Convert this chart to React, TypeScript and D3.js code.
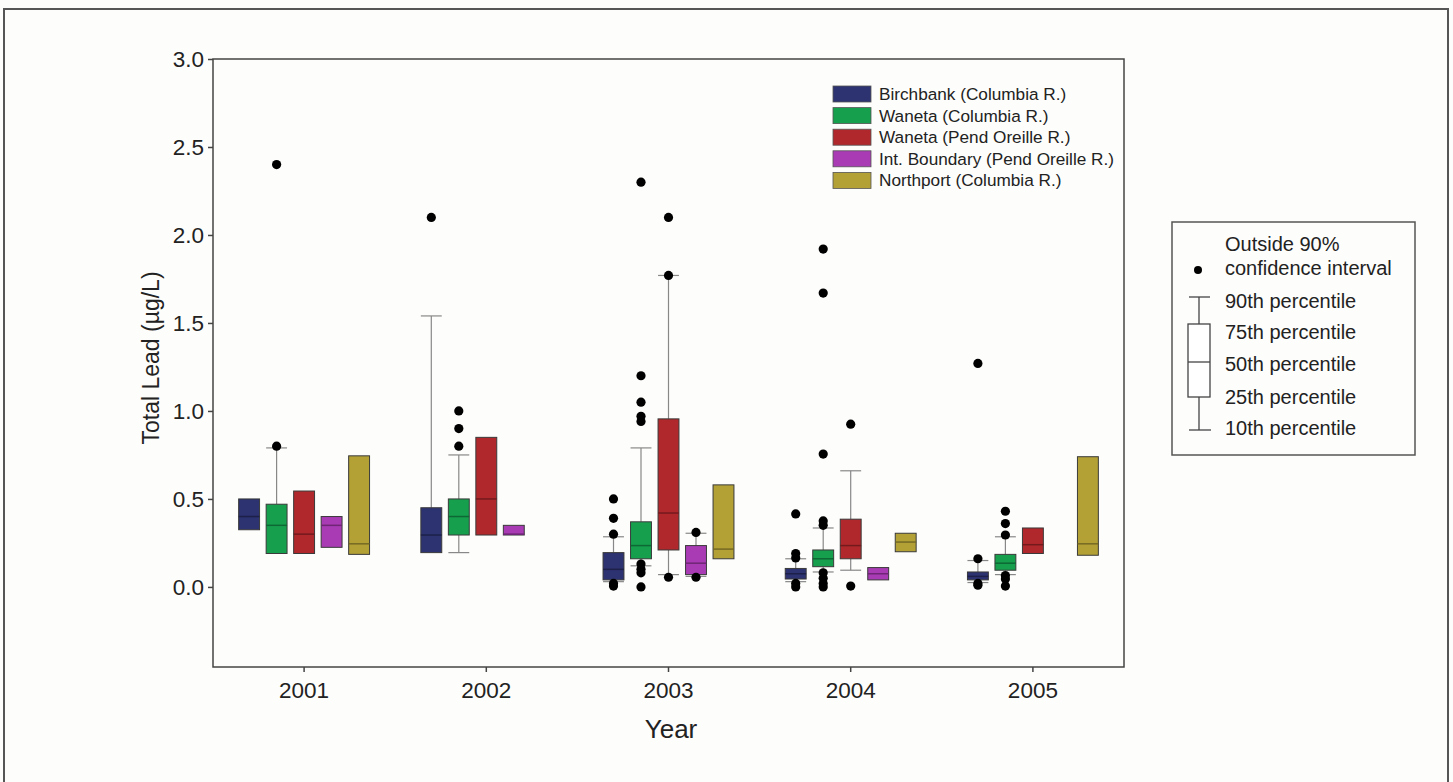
import React, { useEffect, useRef } from "react";
import { scaleLinear, scaleBand, axisLeft, axisBottom, select, color } from "d3";

const years = ["2001", "2002", "2003", "2004", "2005"];
const seriesNames = [
  "Birchbank (Columbia R.)",
  "Waneta (Columbia R.)",
  "Waneta (Pend Oreille R.)",
  "Int. Boundary (Pend Oreille R.)",
  "Northport (Columbia R.)",
];
const seriesColors = ["#2d3270", "#16a04e", "#b1282c", "#a93bb4", "#b3a136"];
const yTicks = [0, 0.5, 1.0, 1.5, 2.0, 2.5, 3.0];

// p10 / p90 are null where no whisker is drawn
const birchbank = [
  { year: "2001", p10: null, p25: 0.325, p50: 0.4, p75: 0.5, p90: null, out: [] },
  { year: "2002", p10: null, p25: 0.195, p50: 0.295, p75: 0.45, p90: 1.54, out: [2.1] },
  { year: "2003", p10: 0.03, p25: 0.04, p50: 0.1, p75: 0.195, p90: 0.285, out: [0.5, 0.39, 0.3, 0.02, 0.005] },
  { year: "2004", p10: 0.03, p25: 0.045, p50: 0.075, p75: 0.105, p90: 0.16, out: [0.415, 0.19, 0.165, 0.02, 0.0] },
  { year: "2005", p10: 0.025, p25: 0.04, p50: 0.06, p75: 0.085, p90: 0.15, out: [1.27, 0.16, 0.02, 0.01] },
];
const wanetaColumbia = [
  { year: "2001", p10: null, p25: 0.19, p50: 0.35, p75: 0.47, p90: 0.79, out: [2.4, 0.8] },
  { year: "2002", p10: 0.195, p25: 0.295, p50: 0.4, p75: 0.5, p90: 0.75, out: [1.0, 0.9, 0.8] },
  { year: "2003", p10: 0.12, p25: 0.16, p50: 0.235, p75: 0.37, p90: 0.79, out: [2.3, 1.2, 1.05, 0.97, 0.94, 0.13, 0.1, 0.08, 0.0] },
  { year: "2004", p10: 0.085, p25: 0.115, p50: 0.16, p75: 0.21, p90: 0.335, out: [1.92, 1.67, 0.755, 0.375, 0.35, 0.08, 0.05, 0.02, 0.0] },
  { year: "2005", p10: 0.07, p25: 0.095, p50: 0.135, p75: 0.185, p90: 0.285, out: [0.43, 0.36, 0.295, 0.065, 0.045, 0.005] },
];
const wanetaPendOreille = [
  { year: "2001", p10: null, p25: 0.19, p50: 0.3, p75: 0.545, p90: null, out: [] },
  { year: "2002", p10: null, p25: 0.295, p50: 0.5, p75: 0.85, p90: null, out: [] },
  { year: "2003", p10: 0.07, p25: 0.21, p50: 0.42, p75: 0.955, p90: 1.77, out: [2.1, 1.77, 0.055] },
  { year: "2004", p10: 0.095, p25: 0.16, p50: 0.235, p75: 0.385, p90: 0.66, out: [0.925, 0.005] },
  { year: "2005", p10: null, p25: 0.19, p50: 0.24, p75: 0.335, p90: null, out: [] },
];
const intBoundary = [
  { year: "2001", p10: null, p25: 0.225, p50: 0.35, p75: 0.4, p90: null, out: [] },
  { year: "2002", p10: null, p25: 0.295, p50: 0.3, p75: 0.35, p90: null, out: [] },
  { year: "2003", p10: 0.06, p25: 0.07, p50: 0.135, p75: 0.235, p90: 0.305, out: [0.31, 0.055] },
  { year: "2004", p10: null, p25: 0.04, p50: 0.075, p75: 0.11, p90: null, out: [] },
];
const northport = [
  { year: "2001", p10: null, p25: 0.185, p50: 0.245, p75: 0.745, p90: null, out: [] },
  { year: "2003", p10: null, p25: 0.16, p50: 0.215, p75: 0.58, p90: null, out: [] },
  { year: "2004", p10: null, p25: 0.2, p50: 0.255, p75: 0.305, p90: null, out: [] },
  { year: "2005", p10: null, p25: 0.18, p50: 0.245, p75: 0.74, p90: null, out: [] },
];
const allSeries = [birchbank, wanetaColumbia, wanetaPendOreille, intBoundary, northport];

const legendRows = [
  "90th percentile",
  "75th percentile",
  "50th percentile",
  "25th percentile",
  "10th percentile",
];

const FONT = "'Liberation Sans', Arial, Helvetica, sans-serif";

export default function App() {
  const W = 1453;
  const H = 782;
  const plot = { left: 213, top: 59, right: 1124, bottom: 667 };

  const x = scaleBand().domain(years).range([plot.left, plot.right]);
  const inner = scaleBand()
    .domain(seriesNames)
    .range([-68.75, 68.75])
    .paddingInner(0.24)
    .paddingOuter(0.12);
  const y = scaleLinear().domain([-0.455, 3.0]).range([plot.bottom, plot.top]);

  const xAxisRef = useRef(null);
  const yAxisRef = useRef(null);

  useEffect(() => {
    const styleAxis = (g) => {
      g.select(".domain").remove();
      g.attr("font-size", 22.5).attr("font-family", FONT);
      g.selectAll("line").attr("stroke", "#444").attr("stroke-width", 1.5);
      g.selectAll("text").attr("fill", "#222");
    };
    const gy = select(yAxisRef.current);
    gy.call(axisLeft(y).tickValues(yTicks).tickFormat((d) => d.toFixed(1)).tickSize(5).tickPadding(4));
    styleAxis(gy);
    const gx = select(xAxisRef.current);
    gx.call(axisBottom(x).tickSize(5).tickPadding(10));
    styleAxis(gx);
  }, []);

  const bw = inner.bandwidth();

  return (
    <div style={{ position: "absolute", left: 0, top: 0 }}>
      <svg width={W} height={H} style={{ display: "block", fontFamily: FONT }}>
        <rect x={0} y={0} width={W} height={H} fill="#fdfdfb" />
        <rect x={4} y={9} width={1444} height={800} fill="none" stroke="#555" strokeWidth={2} />

        {/* boxes */}
        {allSeries.map((series, si) => {
          const fill = seriesColors[si];
          const dark = color(fill).darker(1.2).formatHex();
          return (
            <g key={si}>
              {series.map((b) => {
                const cx = x(b.year) + x.bandwidth() / 2 + inner(seriesNames[si]) + bw / 2;
                const x0 = cx - bw / 2;
                return (
                  <g key={b.year}>
                    {b.p90 != null && (
                      <g stroke="#888" strokeWidth={1.2}>
                        <line x1={cx} x2={cx} y1={y(b.p75)} y2={y(b.p90)} />
                        <line x1={x0} x2={x0 + bw} y1={y(b.p90)} y2={y(b.p90)} />
                      </g>
                    )}
                    {b.p10 != null && (
                      <g stroke="#888" strokeWidth={1.2}>
                        <line x1={cx} x2={cx} y1={y(b.p25)} y2={y(b.p10)} />
                        <line x1={x0} x2={x0 + bw} y1={y(b.p10)} y2={y(b.p10)} />
                      </g>
                    )}
                    <rect
                      x={x0}
                      y={y(b.p75)}
                      width={bw}
                      height={y(b.p25) - y(b.p75)}
                      fill={fill}
                      stroke="#3a3a3a"
                      strokeWidth={1}
                    />
                    <line x1={x0} x2={x0 + bw} y1={y(b.p50)} y2={y(b.p50)} stroke={dark} strokeWidth={1.5} />
                    {b.out.map((v, i) => (
                      <circle key={i} cx={cx} cy={y(v)} r={4.6} fill="#000" />
                    ))}
                  </g>
                );
              })}
            </g>
          );
        })}

        <rect
          x={plot.left}
          y={plot.top}
          width={plot.right - plot.left}
          height={plot.bottom - plot.top}
          fill="none"
          stroke="#444"
          strokeWidth={1.5}
        />
        <g ref={yAxisRef} transform={`translate(${plot.left},0)`} />
        <g ref={xAxisRef} transform={`translate(0,${plot.bottom})`} />

        <text x={671} y={738} textAnchor="middle" fontSize={26} fill="#222">
          Year
        </text>
        <text
          transform={`translate(159,358) rotate(-90)`}
          textAnchor="middle"
          fontSize={23}
          fill="#222"
        >
          Total Lead (µg/L)
        </text>

        {/* series legend */}
        {seriesNames.map((name, i) => (
          <g key={name} transform={`translate(833,${94 + i * 21.6})`}>
            <rect x={0} y={-8} width={38} height={16} fill={seriesColors[i]} stroke="#555" strokeWidth={0.8} />
            <text x={46} y={6} fontSize={17.2} fill="#222">
              {name}
            </text>
          </g>
        ))}

        {/* box explanation legend */}
        <g>
          <rect x={1172} y={222} width={243} height={233} fill="none" stroke="#555" strokeWidth={1.5} />
          <circle cx={1198} cy={270} r={4} fill="#000" />
          <text x={1225} y={251} fontSize={20} fill="#222">Outside 90%</text>
          <text x={1225} y={275} fontSize={20} fill="#222">confidence interval</text>
          <g stroke="#444" strokeWidth={1.3} fill="none">
            <line x1={1199} x2={1199} y1={297} y2={324} />
            <line x1={1199} x2={1199} y1={397} y2={430} />
            <line x1={1189} x2={1210} y1={297} y2={297} />
            <line x1={1189} x2={1211} y1={430} y2={430} />
            <rect x={1188} y={324} width={22} height={73} fill="#fff" />
            <line x1={1188} x2={1210} y1={362} y2={362} />
          </g>
          {legendRows.map((t, i) => (
            <text key={t} x={1225} y={[301, 332, 364, 397, 428][i] + 7} fontSize={20} fill="#222">
              {t}
            </text>
          ))}
        </g>
      </svg>
    </div>
  );
}
